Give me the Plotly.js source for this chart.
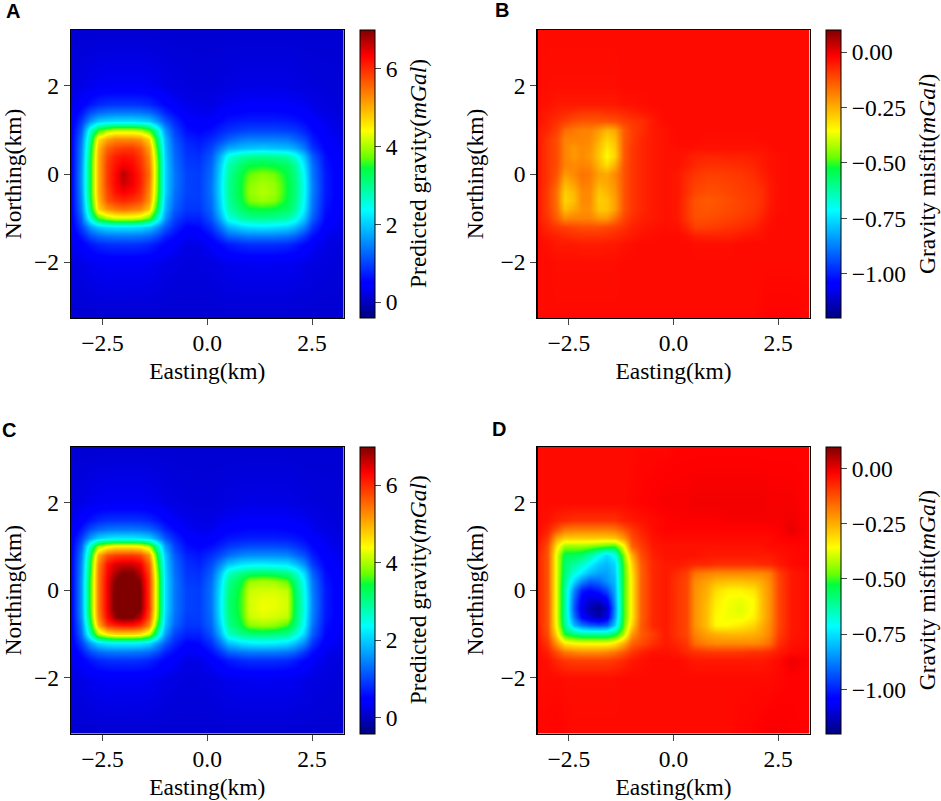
<!DOCTYPE html>
<html><head><meta charset="utf-8">
<script src="https://cdn.plot.ly/plotly-3.0.1.min.js"></script>
<style>html,body{margin:0;padding:0;background:#fff}</style></head>
<body><div id="chart" style="width:941px;height:801px"></div>
<script>
const eastingKm=[-3.25,-3.0,-2.8,-2.6,-2.4,-2.2,-2.0,-1.8,-1.6,-1.4,-1.2,-1.0,-0.8,-0.5,-0.2,0.1,0.3,0.5,0.8,1.0,1.3,1.6,1.9,2.1,2.3,2.5,2.8,3.25];
const northingKm=[3.25,2.0,1.6,1.4,1.2,1.0,0.8,0.6,0.4,0.2,0,-0.2,-0.4,-0.6,-0.8,-1.0,-1.2,-1.4,-1.6,-2.0,-3.25];
const gravityA=[
[.12,.12,.12,.12,.12,.12,.12,.12,.12,.12,.12,.12,.12,.12,.12, .12,.12,.12,.12,.12,.12,.12,.12,.12,.12,.12,.12,.12],
[.2,.25,.3,.34,.36,.36,.36,.36,.36,.34,.3,.25,.22,.2,.18, .18,.2,.22,.24,.25,.25,.25,.24,.22,.2,.18,.17,.15],
[.28,.45,.65,.78,.85,.87,.87,.87,.85,.78,.65,.5,.38,.28,.24, .24,.3,.34,.38,.4,.4,.4,.38,.36,.32,.26,.2,.16],
[.32,.65,1.05,1.25,1.35,1.38,1.38,1.38,1.35,1.25,1.05,.75,.55,.36,.3, .3,.4,.48,.52,.55,.55,.55,.52,.48,.42,.32,.24,.18],
[.38,.9,1.6,2.0,2.1,2.15,2.15,2.15,2.1,2.0,1.6,1.15,.8,.48,.38, .42,.55,.65,.7,.72,.72,.72,.7,.65,.55,.42,.3,.2],
[.42,1.15,2.6,3.5,3.9,4.1,4.1,4.1,4.0,3.6,2.7,1.6,1.0,.6,.5, .6,.75,.85,.95,1.0,1.0,1.0,.95,.9,.75,.55,.35,.22],
[.45,1.35,3.0,4.6,5.1,5.3,5.3,5.3,5.2,4.7,3.2,1.85,1.15,.75,.65, .8,1.0,1.2,1.4,1.45,1.45,1.45,1.4,1.25,1.05,.7,.42,.25],
[.45,1.45,3.2,4.9,5.6,5.8,5.9,5.9,5.7,5.1,3.5,1.95,1.25,.85,.75, 1.0,1.4,1.75,1.9,1.95,2.0,1.95,1.9,1.75,1.4,.9,.5,.28],
[.45,1.5,3.3,5.0,5.8,6.1,6.2,6.15,5.9,5.3,3.7,2.0,1.3,.9,.85, 1.15,1.8,2.5,2.85,2.95,3.0,2.95,2.85,2.55,1.95,1.2,.6,.3],
[.45,1.55,3.4,5.0,5.9,6.2,6.4,6.3,6.0,5.4,3.8,2.05,1.35,.95,.9, 1.25,2.0,2.8,3.2,3.4,3.45,3.4,3.25,2.95,2.2,1.35,.65,.32],
[.45,1.6,3.4,5.0,5.9,6.3,6.7,6.4,6.1,5.5,3.8,2.05,1.4,1.0,.95, 1.3,2.1,2.9,3.4,3.7,3.85,3.75,3.4,3.05,2.35,1.4,.7,.33],
[.45,1.6,3.4,5.0,5.9,6.3,6.6,6.4,6.1,5.4,3.8,2.05,1.4,1.0,.95, 1.35,2.15,2.95,3.45,3.85,4.0,3.9,3.45,3.1,2.4,1.45,.7,.33],
[.45,1.55,3.4,5.0,5.8,6.2,6.35,6.25,6.0,5.3,3.75,2.05,1.35,1.0,.95, 1.35,2.15,2.95,3.45,3.9,4.05,3.95,3.45,3.1,2.4,1.45,.7,.33],
[.45,1.5,3.3,4.9,5.7,5.95,6.05,5.95,5.8,5.2,3.6,1.95,1.3,.95,.95, 1.3,2.1,2.9,3.4,3.8,3.95,3.85,3.4,3.05,2.35,1.4,.68,.33],
[.45,1.4,3.1,4.7,5.2,5.4,5.5,5.4,5.3,4.8,3.3,1.85,1.2,.9,.9, 1.25,2.0,2.8,3.2,3.4,3.45,3.4,3.25,2.95,2.25,1.35,.62,.3],
[.42,1.2,2.6,3.6,4.0,4.2,4.2,4.2,4.1,3.7,2.7,1.6,1.0,.75,.75, 1.1,1.75,2.5,2.85,2.95,3.0,2.95,2.85,2.55,1.95,1.2,.55,.28],
[.38,.95,1.6,1.95,2.1,2.15,2.15,2.15,2.1,1.95,1.6,1.15,.8,.5,.55, .85,1.3,1.8,2.05,2.15,2.2,2.15,2.05,1.85,1.45,.9,.42,.24],
[.32,.65,1.05,1.25,1.35,1.38,1.38,1.38,1.35,1.25,1.05,.75,.55,.35,.38, .6,.9,1.2,1.35,1.4,1.4,1.4,1.35,1.2,.9,.6,.32,.2],
[.28,.45,.65,.78,.85,.87,.87,.87,.85,.78,.65,.5,.38,.25,.25, .4,.55,.7,.8,.85,.85,.85,.8,.7,.55,.38,.24,.18],
[.2,.25,.3,.34,.36,.36,.36,.36,.36,.34,.3,.25,.22,.2,.2, .22,.26,.3,.32,.33,.33,.33,.32,.3,.26,.22,.2,.16],
[.12,.12,.12,.12,.12,.12,.12,.12,.12,.12,.12,.12,.12,.12,.12, .12,.12,.12,.12,.12,.12,.12,.12,.12,.12,.12,.12,.12]
];
const gravityC=[
[.12,.12,.12,.12,.12,.12,.12,.12,.12,.12,.12,.12,.12,.12,.12, .12,.12,.12,.12,.12,.12,.12,.12,.12,.12,.12,.12,.12],
[.2,.25,.3,.34,.36,.36,.36,.36,.36,.34,.3,.25,.22,.2,.18, .18,.2,.22,.24,.25,.25,.25,.24,.22,.2,.18,.17,.15],
[.28,.45,.65,.78,.85,.87,.87,.87,.85,.78,.65,.5,.38,.28,.24, .24,.3,.34,.38,.4,.4,.4,.38,.36,.32,.26,.2,.16],
[.32,.65,1.05,1.25,1.35,1.38,1.38,1.38,1.35,1.25,1.05,.75,.55,.36,.3, .3,.4,.48,.52,.55,.55,.55,.52,.48,.42,.32,.24,.18],
[.38,.95,1.65,2.05,2.2,2.25,2.25,2.25,2.2,2.05,1.65,1.15,.8,.48,.38, .42,.55,.65,.7,.72,.72,.72,.7,.65,.55,.42,.3,.2],
[.42,1.2,2.75,3.9,4.3,4.5,4.5,4.5,4.4,4.0,2.85,1.65,1.0,.6,.5, .6,.75,.9,1.0,1.05,1.05,1.05,1.0,.9,.75,.55,.35,.22],
[.45,1.4,3.2,5.0,5.7,5.85,5.9,5.9,5.8,5.2,3.4,1.95,1.2,.75,.65, .85,1.05,1.3,1.5,1.55,1.55,1.55,1.5,1.3,1.1,.72,.42,.25],
[.45,1.5,3.4,5.3,6.2,6.5,6.6,6.6,6.4,5.6,3.7,2.05,1.3,.85,.75, 1.05,1.5,1.95,2.2,2.25,2.3,2.25,2.2,1.95,1.55,.95,.5,.28],
[.45,1.55,3.5,5.4,6.3,6.8,7.0,7.0,6.7,5.8,3.9,2.1,1.35,.9,.85, 1.2,1.9,2.7,3.05,3.2,3.25,3.2,3.05,2.75,2.1,1.25,.6,.3],
[.45,1.6,3.6,5.4,6.4,7.0,7.2,7.2,6.9,5.9,4.0,2.15,1.4,.95,.9, 1.3,2.1,2.95,3.4,3.9,4.0,3.95,3.7,3.1,2.35,1.4,.65,.32],
[.45,1.6,3.6,5.4,6.4,7.1,7.3,7.3,7.0,5.9,4.0,2.15,1.4,1.0,.95, 1.35,2.2,3.05,3.55,4.15,4.2,4.2,4.1,3.25,2.45,1.45,.7,.33],
[.45,1.6,3.6,5.4,6.4,7.1,7.3,7.3,7.0,5.9,4.0,2.15,1.4,1.0,.95, 1.35,2.25,3.1,3.6,4.2,4.3,4.3,4.2,3.3,2.5,1.5,.7,.33],
[.45,1.6,3.6,5.4,6.4,7.1,7.3,7.2,7.0,5.9,4.0,2.15,1.4,1.0,.95, 1.35,2.25,3.1,3.6,4.2,4.35,4.3,4.2,3.3,2.5,1.5,.7,.33],
[.45,1.55,3.5,5.3,6.3,6.9,7.1,7.0,6.7,5.7,3.9,2.05,1.35,.95,.95, 1.3,2.2,3.05,3.55,4.15,4.25,4.2,4.1,3.25,2.45,1.45,.68,.33],
[.45,1.4,3.2,5.0,5.9,6.1,6.2,6.2,6.0,5.3,3.5,1.95,1.25,.9,.9, 1.25,2.05,2.95,3.4,3.85,3.95,3.9,3.6,3.1,2.35,1.35,.62,.3],
[.42,1.25,2.75,4.0,4.5,4.7,4.7,4.7,4.6,4.1,2.85,1.65,1.0,.75,.75, 1.1,1.8,2.65,3.0,3.1,3.15,3.1,3.0,2.65,2.05,1.2,.55,.28],
[.38,.95,1.65,2.1,2.25,2.3,2.3,2.3,2.25,2.1,1.65,1.15,.8,.5,.55, .85,1.35,1.9,2.15,2.25,2.3,2.25,2.15,1.9,1.5,.9,.42,.24],
[.32,.65,1.05,1.25,1.35,1.38,1.38,1.38,1.35,1.25,1.05,.75,.55,.35,.38, .6,.9,1.2,1.35,1.4,1.4,1.4,1.35,1.2,.9,.6,.32,.2],
[.28,.45,.65,.78,.85,.87,.87,.87,.85,.78,.65,.5,.38,.25,.25, .4,.55,.7,.8,.85,.85,.85,.8,.7,.55,.38,.24,.18],
[.2,.25,.3,.34,.36,.36,.36,.36,.36,.34,.3,.25,.22,.2,.2, .22,.26,.3,.32,.33,.33,.33,.32,.3,.26,.22,.2,.16],
[.12,.12,.12,.12,.12,.12,.12,.12,.12,.12,.12,.12,.12,.12,.12, .12,.12,.12,.12,.12,.12,.12,.12,.12,.12,.12,.12,.12]
];
const misfitB=[
[-.03,-.03,-.03,-.03,-.03,-.03,-.03,-.03,-.03,-.03,-.03,-.03,-.03,-.03,-.03, -.03,-.03,-.03,-.03,-.03,-.03,-.03,-.03,-.03,-.03,-.03,-.03,-.03],
[-.03,-.035,-.035,-.035,-.035,-.035,-.035,-.035,-.035,-.035,-.03,-.03,-.03,-.03,-.03, -.03,-.03,-.03,-.03,-.03,-.03,-.03,-.03,-.03,-.03,-.03,-.03,-.03],
[-.035,-.04,-.05,-.05,-.05,-.05,-.05,-.05,-.05,-.05,-.04,-.04,-.035,-.03,-.03, -.03,-.03,-.03,-.03,-.03,-.03,-.03,-.03,-.03,-.03,-.03,-.03,-.03],
[-.04,-.05,-.06,-.07,-.08,-.09,-.09,-.09,-.08,-.08,-.07,-.06,-.05,-.04,-.03, -.03,-.03,-.03,-.03,-.03,-.03,-.03,-.03,-.03,-.03,-.03,-.03,-.03],
[-.04,-.06,-.08,-.1,-.12,-.13,-.13,-.13,-.13,-.12,-.1,-.09,-.08,-.05,-.03, -.03,-.03,-.03,-.03,-.03,-.03,-.03,-.03,-.03,-.03,-.03,-.03,-.03],
[-.05,-.07,-.1,-.16,-.18,-.19,-.19,-.22,-.26,-.24,-.14,-.1,-.08,-.05,-.04, -.03,-.03,-.03,-.03,-.03,-.03,-.03,-.03,-.03,-.03,-.03,-.03,-.03],
[-.05,-.09,-.12,-.19,-.19,-.19,-.2,-.25,-.3,-.27,-.14,-.1,-.07,-.05,-.04, -.03,-.03,-.03,-.035,-.035,-.035,-.035,-.035,-.03,-.03,-.03,-.03,-.03],
[-.05,-.09,-.12,-.19,-.22,-.2,-.21,-.27,-.33,-.29,-.14,-.09,-.07,-.05,-.04, -.035,-.035,-.04,-.04,-.04,-.04,-.04,-.04,-.04,-.035,-.03,-.03,-.03],
[-.05,-.09,-.12,-.19,-.22,-.2,-.22,-.28,-.35,-.3,-.14,-.09,-.07,-.05,-.04, -.04,-.05,-.06,-.065,-.065,-.06,-.06,-.055,-.05,-.04,-.035,-.03,-.03],
[-.05,-.09,-.12,-.19,-.2,-.19,-.2,-.26,-.31,-.25,-.13,-.09,-.07,-.05,-.04, -.04,-.055,-.07,-.08,-.08,-.08,-.075,-.065,-.05,-.04,-.035,-.03,-.03],
[-.05,-.09,-.13,-.22,-.2,-.17,-.18,-.23,-.24,-.2,-.13,-.09,-.07,-.05,-.04, -.05,-.07,-.09,-.1,-.1,-.095,-.09,-.075,-.06,-.045,-.035,-.03,-.03],
[-.05,-.09,-.15,-.26,-.23,-.18,-.19,-.25,-.24,-.21,-.13,-.09,-.07,-.05,-.04, -.05,-.08,-.1,-.11,-.11,-.105,-.095,-.085,-.07,-.05,-.035,-.03,-.03],
[-.05,-.1,-.17,-.29,-.26,-.2,-.2,-.28,-.26,-.22,-.13,-.09,-.07,-.05,-.04, -.05,-.08,-.11,-.12,-.12,-.11,-.1,-.09,-.08,-.05,-.035,-.03,-.03],
[-.05,-.1,-.17,-.3,-.27,-.2,-.2,-.29,-.28,-.23,-.13,-.09,-.07,-.05,-.04, -.05,-.09,-.125,-.135,-.13,-.12,-.105,-.095,-.08,-.05,-.035,-.03,-.03],
[-.05,-.1,-.16,-.27,-.24,-.21,-.21,-.28,-.28,-.23,-.13,-.09,-.07,-.05,-.04, -.05,-.09,-.125,-.13,-.125,-.115,-.105,-.09,-.075,-.045,-.035,-.03,-.03],
[-.05,-.09,-.14,-.2,-.19,-.19,-.19,-.22,-.22,-.17,-.11,-.08,-.06,-.05,-.04, -.05,-.09,-.12,-.12,-.115,-.105,-.095,-.08,-.06,-.04,-.03,-.03,-.03],
[-.04,-.07,-.09,-.1,-.11,-.12,-.12,-.12,-.11,-.1,-.08,-.06,-.05,-.04,-.035, -.04,-.065,-.1,-.1,-.095,-.085,-.075,-.06,-.045,-.035,-.03,-.03,-.03],
[-.035,-.05,-.06,-.07,-.08,-.08,-.08,-.08,-.08,-.07,-.06,-.05,-.04,-.035,-.03, -.03,-.04,-.055,-.06,-.06,-.06,-.05,-.04,-.04,-.03,-.03,-.03,-.03],
[-.03,-.04,-.05,-.05,-.05,-.055,-.055,-.055,-.05,-.05,-.04,-.035,-.03,-.03,-.03, -.03,-.03,-.035,-.035,-.035,-.035,-.03,-.03,-.03,-.03,-.03,-.03,-.03],
[-.03,-.03,-.035,-.035,-.035,-.035,-.035,-.035,-.035,-.035,-.03,-.03,-.03,-.03,-.03, -.03,-.03,-.03,-.03,-.03,-.03,-.03,-.03,-.03,-.03,-.03,-.03,-.03],
[-.03,-.03,-.03,-.03,-.03,-.03,-.03,-.03,-.03,-.03,-.03,-.03,-.03,-.03,-.03, -.03,-.03,-.03,-.03,-.03,-.03,-.03,-.03,-.025,-.02,-.02,-.02,-.025]
];
const misfitD=[
[-.03,-.03,-.03,-.03,-.03,-.03,-.03,-.03,-.03,-.03,-.03,-.03,-.025,-.025,-.025, -.02,-.02,-.02,-.02,-.02,-.02,-.02,-.02,-.02,-.02,-.02,-.02,-.02],
[-.03,-.03,-.03,-.03,-.03,-.03,-.03,-.03,-.03,-.03,-.03,-.025,-.02,-.015,-.01, -.01,-.01,-.005,-.005,-.005,-.005,-.005,-.005,-.005,-.01,-.01,-.01,-.02],
[-.03,-.04,-.06,-.07,-.08,-.08,-.08,-.08,-.08,-.08,-.06,-.05,-.04,-.03,-.02, -.015,-.015,-.015,-.015,-.015,-.01,-.01,-.01,-.01,-.01,-.01,-.005,-.02],
[-.03,-.06,-.12,-.17,-.18,-.18,-.18,-.18,-.18,-.17,-.13,-.09,-.06,-.03,-.02, -.02,-.02,-.02,-.02,-.02,-.02,-.02,-.02,-.02,-.02,-.015,.005,-.02],
[-.04,-.09,-.24,-.29,-.29,-.29,-.29,-.29,-.29,-.28,-.22,-.12,-.08,-.04,-.03, -.03,-.03,-.03,-.03,-.03,-.03,-.03,-.03,-.03,-.03,-.02,-.015,-.02],
[-.05,-.12,-.33,-.44,-.44,-.44,-.45,-.47,-.49,-.5,-.36,-.15,-.1,-.05,-.04, -.04,-.04,-.04,-.04,-.04,-.04,-.04,-.04,-.04,-.03,-.03,-.025,-.02],
[-.06,-.13,-.38,-.55,-.55,-.57,-.62,-.7,-.76,-.7,-.45,-.25,-.12,-.06,-.04, -.04,-.04,-.04,-.05,-.05,-.05,-.05,-.05,-.05,-.05,-.04,-.03,-.02],
[-.06,-.13,-.38,-.57,-.62,-.66,-.72,-.78,-.8,-.76,-.49,-.3,-.14,-.07,-.05, -.05,-.06,-.07,-.07,-.08,-.08,-.08,-.08,-.07,-.07,-.05,-.03,-.02],
[-.06,-.13,-.38,-.58,-.68,-.74,-.8,-.83,-.83,-.78,-.5,-.32,-.15,-.07,-.05, -.08,-.1,-.17,-.19,-.2,-.2,-.2,-.2,-.2,-.18,-.1,-.05,-.03],
[-.06,-.13,-.38,-.6,-.76,-.86,-.92,-.9,-.85,-.8,-.5,-.33,-.15,-.07,-.05, -.09,-.11,-.2,-.23,-.26,-.27,-.27,-.26,-.24,-.2,-.11,-.05,-.03],
[-.06,-.13,-.38,-.62,-.86,-1.0,-1.03,-1.0,-.94,-.82,-.5,-.33,-.15,-.07,-.05, -.09,-.11,-.21,-.25,-.31,-.34,-.34,-.32,-.26,-.21,-.11,-.05,-.03],
[-.06,-.13,-.38,-.62,-.9,-1.06,-1.1,-1.1,-1.04,-.84,-.5,-.33,-.15,-.07,-.05, -.09,-.11,-.21,-.26,-.33,-.36,-.37,-.35,-.27,-.21,-.11,-.05,-.03],
[-.06,-.13,-.38,-.62,-.92,-1.08,-1.14,-1.18,-1.12,-.86,-.5,-.33,-.15,-.07,-.05, -.09,-.11,-.21,-.27,-.34,-.365,-.38,-.35,-.27,-.21,-.11,-.05,-.03],
[-.06,-.13,-.38,-.62,-.88,-1.04,-1.1,-1.14,-1.08,-.84,-.5,-.33,-.15,-.07,-.05, -.09,-.11,-.21,-.27,-.35,-.365,-.37,-.34,-.27,-.21,-.11,-.05,-.03],
[-.06,-.13,-.37,-.6,-.8,-.88,-.92,-.94,-.92,-.78,-.48,-.3,-.14,-.07,-.05, -.09,-.11,-.21,-.27,-.35,-.35,-.33,-.3,-.25,-.2,-.11,-.05,-.03],
[-.05,-.12,-.32,-.52,-.57,-.6,-.6,-.6,-.6,-.55,-.42,-.22,-.14,-.1,-.05, -.09,-.11,-.19,-.23,-.25,-.26,-.26,-.25,-.23,-.19,-.1,-.05,-.03],
[-.04,-.09,-.22,-.33,-.35,-.36,-.36,-.36,-.36,-.33,-.25,-.15,-.12,-.08,-.05, -.07,-.09,-.16,-.19,-.2,-.2,-.2,-.2,-.19,-.16,-.08,-.04,-.03],
[-.03,-.06,-.12,-.17,-.19,-.2,-.2,-.2,-.19,-.17,-.13,-.09,-.06,-.04,-.04, -.05,-.07,-.08,-.09,-.09,-.09,-.09,-.08,-.08,-.07,-.05,-.03,-.02],
[-.03,-.04,-.07,-.09,-.1,-.1,-.1,-.1,-.1,-.09,-.07,-.05,-.04,-.03,-.03, -.03,-.04,-.05,-.05,-.05,-.05,-.05,-.05,-.05,-.04,-.03,.0,-.02],
[-.03,-.03,-.03,-.035,-.035,-.035,-.035,-.035,-.035,-.035,-.03,-.03,-.03,-.03,-.03, -.03,-.03,-.03,-.03,-.03,-.03,-.03,-.03,-.03,-.03,-.025,-.02,-.02],
[-.025,-.025,-.02,-.025,-.03,-.03,-.03,-.03,-.03,-.03,-.03,-.03,-.03,-.03,-.03, -.03,-.03,-.03,-.03,-.03,-.03,-.025,-.02,-.015,-.01,-.01,-.015,-.02]
];
const xTicks=[-2.5,0,2.5], xTickText=['\u22122.5','0.0','2.5'];
const yTicks=[-2,0,2];
const gravityTicks=[0,2,4,6];
const misfitTicks=[0,-0.25,-0.5,-0.75,-1];
const panelLetters=['A','B','C','D'];

const jet=[[0,'rgb(0,0,128)'],[.11,'rgb(0,0,255)'],[.125,'rgb(0,0,255)'],[.375,'rgb(0,255,255)'],[.52,'rgb(0,255,60)'],[.56,'rgb(110,255,0)'],[.65,'rgb(255,255,0)'],[.89,'rgb(255,19,0)'],[.91,'rgb(255,0,0)'],[1,'rgb(128,0,0)']];
const W=941,H=801,FONT='Liberation Serif',TS=23.5;
const panels=[
 {z:gravityA,l:71,r:343.5,t:30,b:318,cb:360,cx:418,zmin:-.41,zmax:7,ticks:gravityTicks,fmt:'d',title:'Predicted gravity(<i>mGal</i>)',lx:4,ly:11},
 {z:misfitB,l:537.5,r:809.5,t:30,b:318,cb:826,cx:927,zmin:-1.2,zmax:.1,ticks:misfitTicks,fmt:'.2f',title:'Gravity misfit(<i>mGal</i>)',lx:493,ly:10},
 {z:gravityC,l:71,r:343.5,t:447,b:733.5,cb:360,cx:418,zmin:-.41,zmax:7,ticks:gravityTicks,fmt:'d',title:'Predicted gravity(<i>mGal</i>)',lx:0,ly:430},
 {z:misfitD,l:537.5,r:809.5,t:447,b:733.5,cb:826,cx:927,zmin:-1.2,zmax:.1,ticks:misfitTicks,fmt:'.2f',title:'Gravity misfit(<i>mGal</i>)',lx:490,ly:429}
];
const layout={width:W,height:H,margin:{l:0,r:0,t:0,b:0,autoexpand:false},paper_bgcolor:'#fff',plot_bgcolor:'#fff',font:{family:FONT,size:TS,color:'#000'},showlegend:false,annotations:[]};
const data=[];
panels.forEach((p,i)=>{
 const n=i?String(i+1):'';
 layout['xaxis'+n]={domain:[p.l/W,p.r/W],range:[-3.25,3.25],anchor:'y'+n,tickmode:'array',tickvals:xTicks,ticktext:xTickText,ticks:'outside',ticklen:6,tickwidth:1,ticklabelstandoff:-2,showline:true,mirror:true,linecolor:'#000',linewidth:1.2,showgrid:false,zeroline:false,title:{text:'Easting(km)',font:{size:TS,family:FONT},standoff:7},tickfont:{size:TS,family:FONT}};
 layout['yaxis'+n]={domain:[1-p.b/H,1-p.t/H],range:[-3.27,3.27],anchor:'x'+n,tickmode:'array',tickvals:yTicks,ticks:'outside',ticklen:6,tickwidth:1,showline:true,mirror:true,linecolor:'#000',linewidth:1.2,showgrid:false,zeroline:false,title:{text:'Northing(km)',font:{size:TS,family:FONT},standoff:10},tickfont:{size:TS,family:FONT}};
 data.push({type:'heatmap',x:eastingKm,y:northingKm,z:p.z,xaxis:'x'+n,yaxis:'y'+n,zsmooth:'best',zmin:p.zmin,zmax:p.zmax,colorscale:jet,hoverinfo:'skip',
  colorbar:{x:p.cb/W,xanchor:'left',xpad:0,ypad:0,y:1-p.b/H,yanchor:'bottom',len:(p.b-p.t)/H,lenmode:'fraction',thickness:15,thicknessmode:'pixels',outlinewidth:1,outlinecolor:'#000',tickmode:'array',tickvals:p.ticks,tickformat:p.fmt,ticks:'outside',ticklen:6,tickwidth:1,tickfont:{size:TS,family:FONT}}});
 layout.annotations.push({xref:'paper',yref:'paper',x:p.lx/W,y:1-p.ly/H,xanchor:'left',yanchor:'middle',showarrow:false,text:'<b>'+panelLetters[i]+'</b>',font:{family:'Liberation Sans',size:20,color:'#000'}});
 layout.annotations.push({xref:'paper',yref:'paper',x:p.cx/W,y:1-((p.t+p.b)/2)/H,xanchor:'center',yanchor:'middle',textangle:-90,showarrow:false,text:p.title,font:{family:FONT,size:TS,color:'#000'}});
});
Plotly.newPlot('chart',data,layout,{displayModeBar:false,staticPlot:true});
</script></body></html>
